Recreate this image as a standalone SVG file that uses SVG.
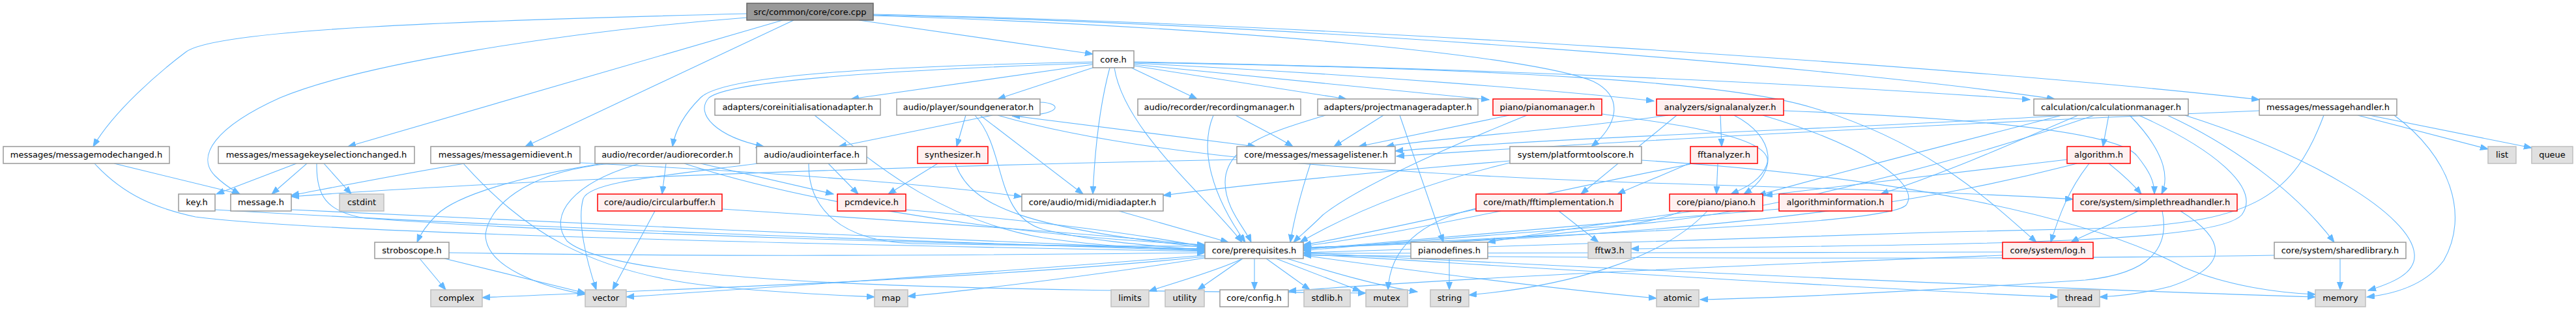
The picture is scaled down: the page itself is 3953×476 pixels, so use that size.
<svg xmlns="http://www.w3.org/2000/svg" width="3953" height="476" viewBox="0 0 3953 476">
<style>
.e{fill:none;stroke:#63b8ff;stroke-width:1.1;marker-end:url(#a)}
.n rect{fill:#ffffff;stroke:#999999;stroke-width:1.5}
.g rect{fill:#e0e0e0;stroke:#bfbfbf;stroke-width:1.5}
.r rect{fill:#fff0f0;stroke:#ff0000;stroke-width:1.5}
.root rect{fill:#999999;stroke:#666666;stroke-width:1.5}
text{font-family:"DejaVu Sans","Liberation Sans",sans-serif;font-size:13px;fill:#000;text-anchor:middle}
</style>
<defs>
<marker id="a" markerUnits="userSpaceOnUse" markerWidth="14" markerHeight="10" refX="12" refY="4.5" orient="auto"><path d="M0,0 L12,4.5 L0,9 z" fill="#63b8ff" stroke="#63b8ff"/></marker>
</defs>
<rect width="3953" height="476" fill="#ffffff"/>
<g id="edges">
<path class="e" d="M1146,21 C700,32 330,45 285,80 C245,110 175,170 143,225"/>
<path class="e" d="M1146,27 C850,50 550,100 430,150 C330,195 300,240 330,270 C345,285 358,292 368,298"/>
<path class="e" d="M1201,31 L534,225"/>
<path class="e" d="M1218,31 L806,225"/>
<path class="e" d="M1318,31 L1677,83"/>
<path class="e" d="M1340,24 C1900,42 2350,85 2445,125 C2495,150 2480,195 2442,225"/>
<path class="e" d="M1340,23 C2000,38 2800,100 3153,152"/>
<path class="e" d="M1340,22 C2000,36 3000,100 3467,153"/>
<path class="e" d="M1677,95 C1350,102 1110,115 1075,150 C1050,175 1036,200 1032,225"/>
<path class="e" d="M1677,97 C1350,108 1120,125 1088,150 C1065,175 1100,210 1172,225"/>
<path class="e" d="M1677,99 L1306,152"/>
<path class="e" d="M1677,104 L1531,152"/>
<path class="e" d="M1703,104 C1688,160 1680,230 1677,298"/>
<path class="e" d="M1710,104 C1725,200 1850,300 1906,372"/>
<path class="e" d="M1736,104 L1837,152"/>
<path class="e" d="M1740,101 L2066,152"/>
<path class="e" d="M1740,99 L2285,153"/>
<path class="e" d="M1740,97 C2100,115 2400,140 2538,155"/>
<path class="e" d="M1740,95 C2300,105 2800,130 3115,153"/>
<path class="e" d="M1740,96 C2300,105 2650,125 2780,165 C2950,215 3045,300 3125,372"/>
<path class="e" d="M1250,177 C1330,240 1430,335 1600,365 C1700,380 1780,382 1849,382"/>
<path class="e" d="M1596,157 C1632,158 1632,178 1553,178"/>
<path class="e" d="M1523,177 L1287,225"/>
<path class="e" d="M1482,177 L1468,225"/>
<path class="e" d="M1504,177 L1662,298"/>
<path class="e" d="M1496,177 C1545,230 1525,330 1600,352 C1680,372 1780,378 1849,384"/>
<path class="e" d="M1548,177 L1927,225"/>
<path class="e" d="M1531,177 C1750,240 2100,265 2500,280 C2900,292 3100,300 3181,306"/>
<path class="e" d="M1862,177 C1840,230 1860,300 1911,372"/>
<path class="e" d="M1896,177 C1930,195 1960,210 1984,225"/>
<path class="e" d="M2123,177 L2047,225"/>
<path class="e" d="M2148,177 L2215,372"/>
<path class="e" d="M2034,177 C1960,200 1880,220 1880,280 C1880,320 1910,350 1920,372"/>
<path class="e" d="M2316,177 L2085,225"/>
<path class="e" d="M2343,177 C2200,235 2080,290 2030,330 C2010,350 1995,362 1985,372"/>
<path class="e" d="M2458,175 C2580,192 2720,210 2712,250 C2705,275 2680,288 2656,298"/>
<path class="e" d="M2640,177 L2642,225"/>
<path class="e" d="M2661,177 C2725,210 2730,265 2676,298"/>
<path class="e" d="M2705,177 C2850,220 2950,280 2925,315 C2890,350 2300,360 2000,382"/>
<path class="e" d="M2573,177 L2426,298"/>
<path class="e" d="M2560,177 C2400,200 2200,212 2127,225"/>
<path class="e" d="M2737,170 C3000,180 3250,200 3280,240 C3300,265 3306,280 3306,298"/>
<path class="e" d="M3236,177 L3227,225"/>
<path class="e" d="M3164,177 C3000,220 2800,270 2698,300"/>
<path class="e" d="M3189,177 C3100,215 3000,260 2886,298"/>
<path class="e" d="M3268,177 C3320,230 3330,270 3317,298"/>
<path class="e" d="M3326,177 C3420,220 3520,290 3582,372"/>
<path class="e" d="M3353,177 C3550,240 3700,330 3705,390 C3708,420 3670,435 3634,446"/>
<path class="e" d="M3214,177 C3000,250 2700,330 2500,345 C2300,360 2100,375 2000,385"/>
<path class="e" d="M3170,177 C2900,195 2400,210 2141,232"/>
<path class="e" d="M3618,177 L3818,229"/>
<path class="e" d="M3636,177 L3885,227"/>
<path class="e" d="M3674,177 C3760,240 3790,330 3750,400 C3720,440 3670,452 3632,456"/>
<path class="e" d="M3467,170 C3100,185 2500,215 2143,240"/>
<path class="e" d="M3566,177 C3520,300 3460,340 3250,350 C2800,360 2300,375 2000,388"/>
<path class="e" d="M3591,397 L3591,445"/>
<path class="e" d="M3490,392 C3000,400 2400,395 2000,392"/>
<path class="e" d="M3172,245 C3000,265 2800,290 2708,300"/>
<path class="e" d="M3206,251 C3175,290 3160,330 3147,372"/>
<path class="e" d="M3236,251 C3260,270 3275,285 3286,298"/>
<path class="e" d="M3187,251 C3000,300 2700,360 2000,380"/>
<path class="e" d="M3281,324 C3240,345 3200,360 3178,372"/>
<path class="e" d="M3346,324 C3420,370 3420,410 3330,440 C3290,450 3250,455 3222,456"/>
<path class="e" d="M3318,324 C3330,380 3300,420 3200,430 C2900,450 2700,458 2609,460"/>
<path class="e" d="M3282,177 C3400,230 3470,290 3440,330 C3400,375 3000,375 2503,382"/>
<path class="e" d="M3073,387 C2700,388 2300,388 2000,389"/>
<path class="e" d="M3073,392 C2600,410 2200,430 1977,447"/>
<path class="e" d="M2581,324 C2500,360 2200,375 2000,380"/>
<path class="e" d="M2600,324 C2450,345 2350,360 2283,372"/>
<path class="e" d="M2620,324 C2550,400 2400,440 2254,453"/>
<path class="e" d="M2636,251 L2634,298"/>
<path class="e" d="M2594,250 C2550,270 2510,285 2482,298"/>
<path class="e" d="M2594,252 C2350,300 2100,360 2000,376"/>
<path class="e" d="M2392,324 L2453,372"/>
<path class="e" d="M2303,324 C2200,345 2100,365 2000,378"/>
<path class="e" d="M2265,320 C2180,340 2133,380 2130,445"/>
<path class="e" d="M2730,321 C2500,340 2200,365 2000,383"/>
<path class="e" d="M2317,250 C2150,290 2050,340 1995,372"/>
<path class="e" d="M2317,247 C2100,265 1900,285 1785,300"/>
<path class="e" d="M2519,246 C2900,270 3200,330 3350,410 C3420,440 3500,450 3553,452"/>
<path class="e" d="M2011,251 C1995,300 1985,340 1980,372"/>
<path class="e" d="M1898,245 C1400,255 800,275 447,302"/>
<path class="e" d="M1717,324 L1885,372"/>
<path class="e" d="M1439,251 L1363,298"/>
<path class="e" d="M1466,251 C1490,320 1580,350 1849,380"/>
<path class="e" d="M1271,251 L1317,298"/>
<path class="e" d="M1241,251 C1240,320 1290,370 1400,374 C1600,378 1750,378 1849,378"/>
<path class="e" d="M1163,251 C1000,272 905,280 895,305 C885,340 900,400 915,445"/>
<path class="e" d="M926,251 C800,270 700,300 670,330 C655,345 645,360 640,372"/>
<path class="e" d="M936,251 C800,265 750,320 745,360 C745,410 830,440 898,452"/>
<path class="e" d="M1022,251 L1016,298"/>
<path class="e" d="M1050,251 C1200,300 1500,360 1849,376"/>
<path class="e" d="M1075,251 L1279,298"/>
<path class="e" d="M982,251 C880,280 840,330 870,370 C950,440 1500,445 2096,450"/>
<path class="e" d="M1005,324 L940,445"/>
<path class="e" d="M1108,321 C1400,340 1700,360 1849,377"/>
<path class="e" d="M1390,322 C1600,340 1750,360 1849,379"/>
<path class="e" d="M713,251 C600,270 500,290 447,300"/>
<path class="e" d="M890,250 C1200,265 1450,285 1568,302"/>
<path class="e" d="M711,251 C800,350 900,420 1100,440 C1200,450 1280,453 1342,456"/>
<path class="e" d="M175,251 L368,298"/>
<path class="e" d="M145,251 C190,300 240,320 300,333 C500,360 1400,378 1849,386"/>
<path class="e" d="M455,251 L332,298"/>
<path class="e" d="M471,251 L417,298"/>
<path class="e" d="M497,251 L539,298"/>
<path class="e" d="M486,251 C485,300 500,325 560,335 C900,360 1500,375 1849,382"/>
<path class="e" d="M330,322 C800,350 1400,370 1849,385"/>
<path class="e" d="M447,322 C900,345 1400,365 1849,384"/>
<path class="e" d="M644,397 L684,445"/>
<path class="e" d="M682,397 L898,450"/>
<path class="e" d="M689,388 C1100,395 1500,392 1849,388"/>
<path class="e" d="M1907,397 C1870,415 1800,435 1763,447"/>
<path class="e" d="M1907,397 L1838,445"/>
<path class="e" d="M1925,397 L1925,445"/>
<path class="e" d="M1943,397 L2010,445"/>
<path class="e" d="M1958,397 L2088,447"/>
<path class="e" d="M1975,397 C2050,420 2120,440 2175,448"/>
<path class="e" d="M2000,392 C2200,420 2400,445 2542,458"/>
<path class="e" d="M2000,390 C2500,420 2900,445 3158,456"/>
<path class="e" d="M2000,388 C2600,420 3200,445 3553,456"/>
<path class="e" d="M1849,392 C1500,420 1200,440 961,456"/>
<path class="e" d="M1849,394 C1500,430 1000,445 740,457"/>
<path class="e" d="M1849,396 C1700,420 1500,445 1393,455"/>
<path class="e" d="M2224,397 L2224,445"/>
</g>
<g id="n_core_cpp" class="root"><rect x="1146" y="5" width="194" height="26"/><text x="1243" y="22.5">src/common/core/core.cpp</text></g>
<g id="n_core_h" class="n"><rect x="1677" y="78" width="63" height="26"/><text x="1708.5" y="95.5">core.h</text></g>
<g id="n_coreinit" class="n"><rect x="1097" y="152" width="254" height="25"/><text x="1224" y="169">adapters/coreinitialisationadapter.h</text></g>
<g id="n_soundgen" class="n"><rect x="1376" y="152" width="220" height="25"/><text x="1486" y="169">audio/player/soundgenerator.h</text></g>
<g id="n_recmgr" class="n"><rect x="1746" y="152" width="250" height="25"/><text x="1871" y="169">audio/recorder/recordingmanager.h</text></g>
<g id="n_projadapter" class="n"><rect x="2022" y="152" width="246" height="25"/><text x="2145" y="169">adapters/projectmanageradapter.h</text></g>
<g id="n_pianomgr" class="r"><rect x="2291" y="152" width="167" height="25"/><text x="2374.5" y="169">piano/pianomanager.h</text></g>
<g id="n_signalanalyzer" class="r"><rect x="2542" y="152" width="195" height="25"/><text x="2639.5" y="169">analyzers/signalanalyzer.h</text></g>
<g id="n_calcmgr" class="n"><rect x="3121" y="152" width="237" height="25"/><text x="3239.5" y="169">calculation/calculationmanager.h</text></g>
<g id="n_msghandler" class="n"><rect x="3467" y="152" width="211" height="25"/><text x="3572.5" y="169">messages/messagehandler.h</text></g>
<g id="n_modechanged" class="n"><rect x="5" y="225" width="255" height="26"/><text x="132.5" y="242">messages/messagemodechanged.h</text></g>
<g id="n_keysel" class="n"><rect x="335" y="225" width="301" height="26"/><text x="485.5" y="242">messages/messagekeyselectionchanged.h</text></g>
<g id="n_midievent" class="n"><rect x="661" y="225" width="229" height="26"/><text x="775.5" y="242">messages/messagemidievent.h</text></g>
<g id="n_audiorecorder" class="n"><rect x="913" y="225" width="222" height="26"/><text x="1024" y="242">audio/recorder/audiorecorder.h</text></g>
<g id="n_audiointerface" class="n"><rect x="1161" y="225" width="169" height="26"/><text x="1245.5" y="242">audio/audiointerface.h</text></g>
<g id="n_synth" class="r"><rect x="1408" y="225" width="108" height="26"/><text x="1462" y="242">synthesizer.h</text></g>
<g id="n_msglistener" class="n"><rect x="1898" y="225" width="243" height="26"/><text x="2019.5" y="242">core/messages/messagelistener.h</text></g>
<g id="n_platformtools" class="n"><rect x="2317" y="225" width="202" height="26"/><text x="2418" y="242">system/platformtoolscore.h</text></g>
<g id="n_fftanalyzer" class="r"><rect x="2594" y="225" width="103" height="26"/><text x="2645.5" y="242">fftanalyzer.h</text></g>
<g id="n_algorithm" class="r"><rect x="3172" y="225" width="97" height="26"/><text x="3220.5" y="242">algorithm.h</text></g>
<g id="n_list" class="g"><rect x="3818" y="225" width="43" height="26"/><text x="3839.5" y="242">list</text></g>
<g id="n_queue" class="g"><rect x="3885" y="225" width="63" height="26"/><text x="3916.5" y="242">queue</text></g>
<g id="n_key" class="n"><rect x="274" y="298" width="56" height="26"/><text x="302" y="315">key.h</text></g>
<g id="n_message" class="n"><rect x="354" y="298" width="93" height="26"/><text x="400.5" y="315">message.h</text></g>
<g id="n_cstdint" class="g"><rect x="521" y="298" width="68" height="26"/><text x="555" y="315">cstdint</text></g>
<g id="n_circbuf" class="r"><rect x="917" y="298" width="191" height="26"/><text x="1012.5" y="315">core/audio/circularbuffer.h</text></g>
<g id="n_pcmdevice" class="r"><rect x="1285" y="298" width="105" height="26"/><text x="1337.5" y="315">pcmdevice.h</text></g>
<g id="n_midiadapter" class="n"><rect x="1568" y="298" width="217" height="26"/><text x="1676.5" y="315">core/audio/midi/midiadapter.h</text></g>
<g id="n_fftimpl" class="r"><rect x="2265" y="298" width="223" height="26"/><text x="2376.5" y="315">core/math/fftimplementation.h</text></g>
<g id="n_piano" class="r"><rect x="2562" y="298" width="143" height="26"/><text x="2633.5" y="315">core/piano/piano.h</text></g>
<g id="n_alginfo" class="r"><rect x="2730" y="298" width="173" height="26"/><text x="2816.5" y="315">algorithminformation.h</text></g>
<g id="n_simplethread" class="r"><rect x="3181" y="298" width="252" height="26"/><text x="3307" y="315">core/system/simplethreadhandler.h</text></g>
<g id="n_stroboscope" class="n"><rect x="575" y="372" width="114" height="25"/><text x="632" y="389">stroboscope.h</text></g>
<g id="n_prereq" class="n"><rect x="1849" y="372" width="151" height="25"/><text x="1924.5" y="389">core/prerequisites.h</text></g>
<g id="n_pianodefines" class="n"><rect x="2165" y="372" width="118" height="25"/><text x="2224" y="389">pianodefines.h</text></g>
<g id="n_fftw3" class="g"><rect x="2437" y="372" width="66" height="25"/><text x="2470" y="389">fftw3.h</text></g>
<g id="n_log" class="r"><rect x="3073" y="372" width="139" height="25"/><text x="3142.5" y="389">core/system/log.h</text></g>
<g id="n_sharedlib" class="n"><rect x="3490" y="372" width="202" height="25"/><text x="3591" y="389">core/system/sharedlibrary.h</text></g>
<g id="n_complex" class="g"><rect x="661" y="445" width="79" height="26"/><text x="700.5" y="462">complex</text></g>
<g id="n_vector" class="g"><rect x="898" y="445" width="63" height="26"/><text x="929.5" y="462">vector</text></g>
<g id="n_map" class="g"><rect x="1342" y="445" width="51" height="26"/><text x="1367.5" y="462">map</text></g>
<g id="n_limits" class="g"><rect x="1705" y="445" width="58" height="26"/><text x="1734" y="462">limits</text></g>
<g id="n_utility" class="g"><rect x="1788" y="445" width="60" height="26"/><text x="1818" y="462">utility</text></g>
<g id="n_config" class="n"><rect x="1872" y="445" width="105" height="26"/><text x="1924.5" y="462">core/config.h</text></g>
<g id="n_stdlib" class="g"><rect x="2001" y="445" width="71" height="26"/><text x="2036.5" y="462">stdlib.h</text></g>
<g id="n_mutex" class="g"><rect x="2096" y="445" width="64" height="26"/><text x="2128" y="462">mutex</text></g>
<g id="n_string" class="g"><rect x="2195" y="445" width="59" height="26"/><text x="2224.5" y="462">string</text></g>
<g id="n_atomic" class="g"><rect x="2542" y="445" width="65" height="26"/><text x="2574.5" y="462">atomic</text></g>
<g id="n_thread" class="g"><rect x="3158" y="445" width="64" height="26"/><text x="3190" y="462">thread</text></g>
<g id="n_memory" class="g"><rect x="3553" y="445" width="77" height="26"/><text x="3591.5" y="462">memory</text></g>
</svg>
